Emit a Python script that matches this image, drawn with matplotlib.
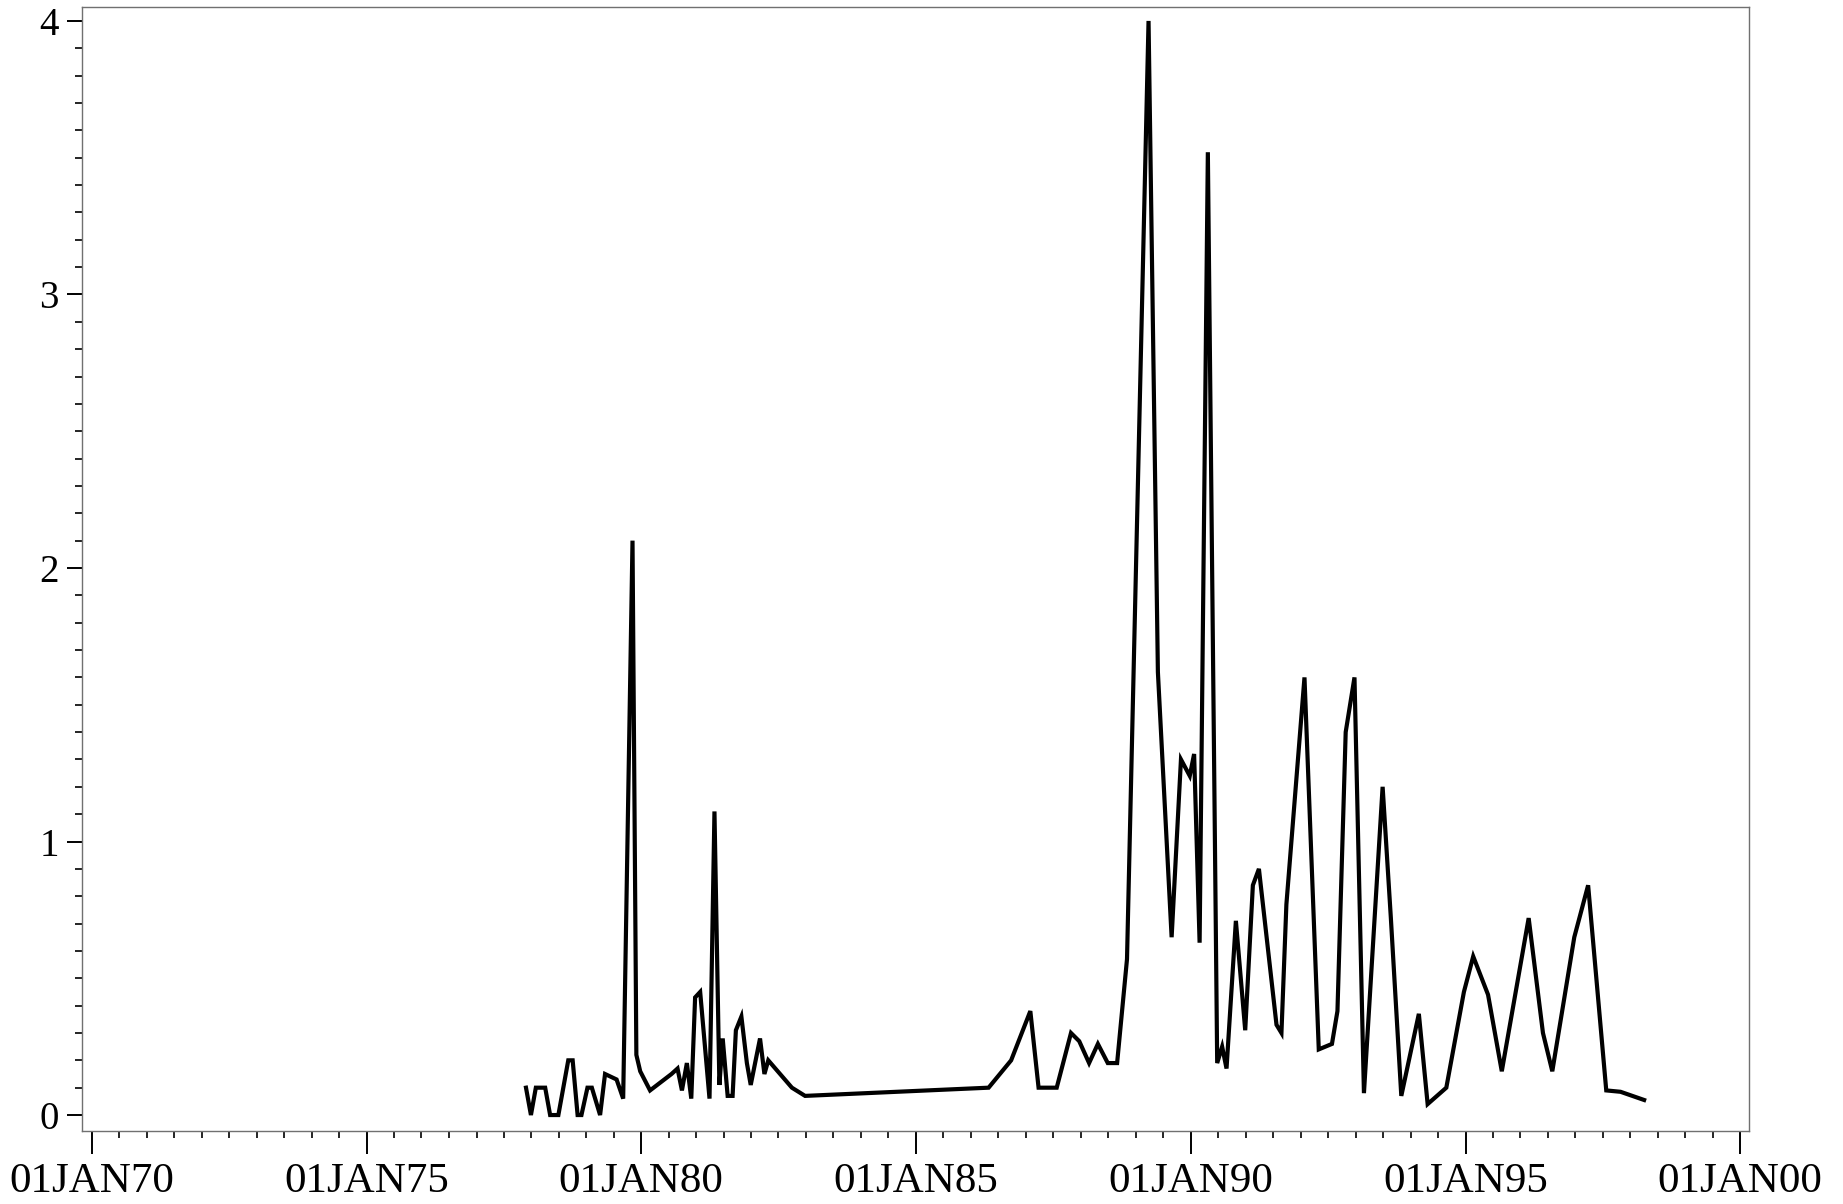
import datetime as dt
import matplotlib
matplotlib.use("Agg")
import matplotlib.pyplot as plt
import matplotlib.dates as mdates
from matplotlib.ticker import MultipleLocator, FuncFormatter

# ----- data -----
# dates as decimal years, values on the y axis
years = [
    1977.90, 1977.99, 1978.08, 1978.25, 1978.34, 1978.49, 1978.67, 1978.75,
    1978.84, 1978.91, 1979.02, 1979.10, 1979.25, 1979.34, 1979.55, 1979.67,
    1979.84, 1979.91, 1979.98, 1980.16, 1980.55, 1980.66, 1980.74, 1980.83,
    1980.91, 1980.98, 1981.07, 1981.24, 1981.33, 1981.42, 1981.48, 1981.57,
    1981.66, 1981.72, 1981.82, 1981.92, 1981.99, 1982.16, 1982.24, 1982.31,
    1982.74, 1982.98, 1986.32, 1986.73, 1987.08, 1987.23, 1987.56, 1987.82,
    1987.97, 1988.15, 1988.31, 1988.49, 1988.66, 1988.84, 1989.23, 1989.40,
    1989.65, 1989.82, 1989.98, 1990.06, 1990.16, 1990.31, 1990.48, 1990.57,
    1990.65, 1990.82, 1990.99, 1991.13, 1991.24, 1991.56, 1991.65, 1991.74,
    1992.07, 1992.33, 1992.57, 1992.67, 1992.82, 1992.98, 1993.15, 1993.49,
    1993.64, 1993.83, 1994.15, 1994.31, 1994.65, 1994.97, 1995.14, 1995.41,
    1995.66, 1996.15, 1996.41, 1996.58, 1996.98, 1997.23, 1997.56, 1997.82,
    1998.25,
]
values = [
    0.10, 0.00, 0.10, 0.10, 0.00, 0.00, 0.20, 0.20,
    0.00, 0.00, 0.10, 0.10, 0.00, 0.15, 0.13, 0.06,
    2.10, 0.22, 0.16, 0.09, 0.15, 0.17, 0.09, 0.19,
    0.06, 0.43, 0.45, 0.06, 1.11, 0.11, 0.28, 0.07,
    0.07, 0.31, 0.36, 0.19, 0.11, 0.28, 0.15, 0.20,
    0.10, 0.07, 0.10, 0.20, 0.38, 0.10, 0.10, 0.30,
    0.27, 0.19, 0.26, 0.19, 0.19, 0.57, 4.00, 1.62,
    0.65, 1.30, 1.24, 1.32, 0.63, 3.52, 0.19, 0.25,
    0.17, 0.71, 0.31, 0.84, 0.90, 0.33, 0.30, 0.77,
    1.60, 0.24, 0.26, 0.38, 1.40, 1.60, 0.08, 1.20,
    0.72, 0.07, 0.37, 0.04, 0.10, 0.45, 0.58, 0.44,
    0.16, 0.72, 0.30, 0.16, 0.65, 0.84, 0.09, 0.085,
    0.055,
]


# decimal year -> datetime
def to_date(y):
    yr = int(y)
    return dt.datetime(yr, 1, 1) + dt.timedelta(days=(y - yr) * 365.25)


dates = [to_date(y) for y in years]

# ----- plot -----
plt.rcParams["font.family"] = ["Liberation Serif", "DejaVu Serif"]

fig = plt.figure(figsize=(18.43, 12.04), dpi=100)
ax = fig.add_axes([0.0445, 0.0606, 0.9045, 0.9336])

ax.plot(dates, values, color="black", linewidth=3.0, solid_joinstyle="miter")

ax.set_xlim(to_date(1969.82), to_date(2000.16))
ax.set_ylim(-0.0585, 4.051)

# x axis: 5-year majors, half-year minors
ax.xaxis.set_major_locator(mdates.YearLocator(5))
ax.xaxis.set_minor_locator(mdates.MonthLocator(bymonth=[1, 7]))
ax.xaxis.set_major_formatter(
    FuncFormatter(lambda x, pos: mdates.num2date(x).strftime("%d%b%y").upper()))

# y axis
ax.yaxis.set_major_locator(MultipleLocator(1))
ax.yaxis.set_minor_locator(MultipleLocator(0.1))

ax.tick_params(axis="x", which="major", direction="out", length=16.5, width=1.4,
               labelsize=31, pad=6)
ax.tick_params(axis="x", which="minor", direction="out", length=5, width=1.2)
ax.tick_params(axis="y", which="major", direction="out", length=10.8, width=1.4,
               labelsize=28, pad=6)
ax.tick_params(axis="y", which="minor", direction="out", length=5, width=1.2)

for s in ax.spines.values():
    s.set_color("#707070")
    s.set_linewidth(1.0)

fig.savefig("out.png", dpi=100)
